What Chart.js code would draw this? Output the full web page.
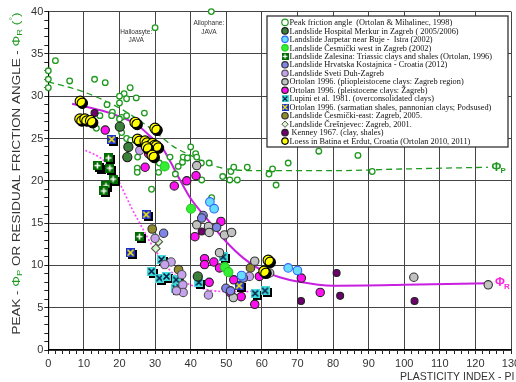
<!DOCTYPE html>
<html>
<head>
<meta charset="utf-8">
<script src="https://cdn.jsdelivr.net/npm/chart.js@4.4.1/dist/chart.umd.min.js"></script>
<style>
html, body { margin: 0; padding: 0; overflow: hidden; background: #fff; }
</style>
</head>
<body>
<canvas id="myChart" width="545" height="382"></canvas>
<script>
// values: [plasticity index, friction angle]
var peakPts = [[0,33.0],[0,32.0],[0,31.0],[2,34.2],[6,31.8],[13,32.0],[16,31.6],[23,31.0],[21.3,30.3],[20,30.0],[22,29.7],[24.7,29.8],[20,29.2],[16.5,29.0],[27,28.0],[18,28.1],[17.8,27.7],[20.6,27.5],[22,27.7],[20,27.3],[14.5,27.7],[13.5,26.2],[20.6,25.7],[22,25.0],[23.1,24.8],[25.1,22.8],[25,21.5],[25,21.0],[30,38.1],[45.8,40.0],[29,19.0],[31,21.0],[31.2,22.1],[34.2,22.8],[35.7,20.8],[36.5,21.7],[37.7,22.2],[37.9,22.8],[39.1,22.7],[40,24.0],[41.4,23.2],[41.7,22.8],[43,22.1],[43.1,20.1],[45.2,22.1],[45.9,18.0],[49,20.5],[51,20.1],[53.1,20.1],[51.3,21.1],[52.1,21.6],[55.9,21.6],[62,20.8],[63,21.4],[64,19.5],[67.4,22.1],[76,23.5],[87,23.0],[91,21.1]];
var merkurPts = [[20.1,26.4],[22.5,24.0],[22.2,22.8],[42,8.7]];
var jarpetarPts = [[45.4,17.5],[46.6,16.7],[67.4,9.7],[70,9.4],[54.3,8.8]];
var cesWestPts = [[32.7,21.7],[40.1,16.7],[49.6,9.8],[50.6,9.2]];
var zalesinaPts = [[16.9,22.7],[17.3,21.5],[13.8,21.8],[18.2,20.2],[16.2,19.4],[15.6,18.8],[25.6,13.4]];
var kostajnicaPts = [[32.4,13.8],[43.5,15.9],[43.1,15.6],[47.3,14.5],[49.9,7.3],[51.2,7.0],[54.8,8.5]];
var svetiDuhPts = [[25.7,23.6],[30,13.2],[34.5,10.4],[32.7,10.1],[37.5,8.9],[37.8,7.7],[37.9,6.8],[36,7.0],[45,6.5],[56.5,8.7]];
var plioPts = [[41.7,21.8],[41.7,14.8],[45,14.6],[45.2,13.9],[49.5,13.6],[51.5,13.9],[48.1,11.5],[58,10.5],[62.2,9.1],[52,6.2],[102.7,8.6],[123.6,7.7]];
var pleistPts = [[16,26.0],[27.2,21.6],[28.2,23.2],[35.4,19.4],[38.9,20.0],[41.5,20.6],[48.5,15.2],[41.2,13.4],[43.9,10.8],[43.9,10.1],[46.5,10.4],[48.1,9.7],[45.2,8.0],[52.1,8.3],[51.1,6.8],[54.2,6.3],[58,5.4],[59.3,8.7],[71.1,8.5],[76.4,6.8]];
var lupiniPts = [[31.8,10.7],[29,9.3],[31.2,8.5],[33.2,8.7],[35.9,8.3],[35.8,7.3],[36.9,7.4],[42.3,8.0],[49.1,11.0],[58.1,6.7],[60.9,7.0]];
var sarmatPts = [[17.8,24.9],[14.5,21.6],[27.5,16.0],[23.1,11.5],[53.6,7.6]];
var cesEastPts = [[29.2,14.3],[36.6,9.5],[36.8,8.2],[56.8,9.7]];
var cresnjevecPts = [[30.9,12.8],[30.2,12.0]];
var kenneyPts = [[13,28.0],[43.1,14.0],[71,5.8],[81,9.1],[82,6.4],[102.9,5.8]];
var loessPts = [[9,29.4],[8.9,27.3],[10.3,27.3],[11.9,27.1],[24.4,26.9],[30,26.2],[25.1,24.9],[27.2,24.7],[28.4,24.1],[29.3,24.4],[30.4,24.1],[27.6,24.0],[29.2,23.0],[61.8,10.6],[60.6,9.3]];

// trend curves
var peakTrend = [[0,31.7],[10,30.5],[20,28.6],[25,27.3],[30,25.8],[35,24.1],[40,23.0],[45,22.0],[50,21.4],[60,21.2],[80,21.2],[100,21.4],[123.5,21.6]];
var residualTrend = [[6.7,29.1],[15,28.3],[20,27.6],[25,26.6],[30,24.7],[32,23.9],[34,22.5],[37,20.1],[40,17.9],[45,15.3],[50,12.8],[55,10.8],[60,9.4],[65,8.6],[70,8.1],[80,7.6],[100,7.7],[124,7.9]];
var lowerTrend = [[10.4,23.6],[15,22.6],[18.5,21],[21,18.9],[23.5,16.7],[25.7,15],[28,13.2],[30.5,11.5],[33,10],[36,8.7],[40,7.7],[45,7.1],[50,6.9],[55,6.9],[61,7.1]];

var legendLabels = [
  'Peak friction angle  (Ortolan & Mihalinec, 1998)',
  'Landslide Hospital Merkur in Zagreb ( 2005/2006)',
  'Landslide Jarpetar near Buje -  Istra (2002)',
  'Landslide \u010cesmi\u010dki west in Zagreb (2002)',
  'Landslide Zalesina: Triassic clays and shales (Ortolan, 1996)',
  'Landslide Hrvatska Kostajnica - Croatia (2012)',
  'Landslide Sveti Duh-Zagreb',
  'Ortolan 1996. (pliopleistocene clays: Zagreb region)',
  'Ortolan 1996. (pleistocene clays: \u017dagreb)',
  'Lupini et al. 1981. (overconsolidated clays)',
  'Ortolan 1996. (sarmatian shales, pannonian clays; Podsused)',
  'Landslide \u010cesmi\u010dki-east: Zagreb, 2005.',
  'Landslide \u010cre\u0161njevec: Zagreb, 2001.',
  ' Kenney 1967. (clay, shales)',
  'Loess in Batina et Erdut, Croatia (Ortolan 2010, 2011)'
];

var GREEN = '#1f9a1f';
var MAGENTA_LINE = '#c81fe0';

function toXY(arr) {
  return arr.map(function (p) { return {x: p[0], y: p[1]}; });
}

// little square markers with a cross / x on them
function makeMark(size, fill, mark, markColor) {
  var c = document.createElement('canvas');
  c.width = size; c.height = size;
  var g = c.getContext('2d');
  g.fillStyle = fill;
  g.fillRect(0, 0, size, size);
  g.strokeStyle = markColor;
  g.lineWidth = 1.6;
  g.beginPath();
  if (mark === '+') {
    g.moveTo(size / 2, 1.5); g.lineTo(size / 2, size - 1.5);
    g.moveTo(1.5, size / 2); g.lineTo(size - 1.5, size / 2);
  } else {
    g.moveTo(1.5, 1.5); g.lineTo(size - 1.5, size - 1.5);
    g.moveTo(size - 1.5, 1.5); g.lineTo(1.5, size - 1.5);
  }
  g.stroke();
  return c;
}
var zalesinaImg = makeMark(9, '#006b00', '+', '#ffffff');
var lupiniImg = makeMark(9, '#44dddd', 'x', '#001a40');
var sarmatImg = makeMark(9, '#1a2fd0', 'x', '#ffee00');

function pts(label, data, fill, border, radius, extra) {
  var ds = {
    label: label,
    data: toXY(data),
    backgroundColor: fill,
    borderColor: border,
    borderWidth: 1.1,
    pointRadius: radius,
    pointHoverRadius: radius,
    showLine: false,
    clip: false
  };
  for (var k in extra) ds[k] = extra[k];
  return ds;
}

function trend(data, color, width, dash) {
  return {
    data: toXY(data),
    showLine: true,
    borderColor: color,
    borderWidth: width,
    borderDash: dash,
    pointRadius: 0,
    cubicInterpolationMode: 'monotone',
    fill: false,
    clip: false,
    order: 60
  };
}

var datasets = [
  pts(legendLabels[14], loessPts, '#ffff00', '#000', 5.2, {order: -1, shadow: true}),
  pts(legendLabels[1], merkurPts, '#3b7f3b', '#1a1a1a', 4.6),
  pts(legendLabels[2], jarpetarPts, '#66ddff', '#3366ff', 4.3),
  pts(legendLabels[3], cesWestPts, '#33ee33', '#22cc22', 4.5),
  pts(legendLabels[4], zalesinaPts, '#006b00', '#006b00', 4.5, {pointStyle: zalesinaImg, shadow: true}),
  pts(legendLabels[5], kostajnicaPts, '#7f86e8', '#333', 4.2),
  pts(legendLabels[6], svetiDuhPts, '#c4a2ee', '#555', 4.2),
  pts(legendLabels[7], plioPts, '#c2c2c2', '#333', 4.2),
  pts(legendLabels[8], pleistPts, '#ff10f0', '#222', 4.2),
  pts(legendLabels[9], lupiniPts, '#44dddd', '#001a40', 4.5, {pointStyle: lupiniImg, shadow: true}),
  pts(legendLabels[10], sarmatPts, '#1a2fd0', '#ffee00', 4.5, {pointStyle: sarmatImg, shadow: true}),
  pts(legendLabels[11], cesEastPts, '#8f8a2c', '#333', 4.3),
  pts(legendLabels[12], cresnjevecPts, '#d8f8c8', '#555', 4.3, {pointStyle: 'rectRot'}),
  pts(legendLabels[13], kenneyPts, '#6e006e', '#222', 3.5),
  pts(legendLabels[0], peakPts, '#ffffff', GREEN, 2.8, {borderWidth: 1.3, order: 50}),
  trend(peakTrend, GREEN, 1.3, [6, 4]),
  trend(residualTrend, MAGENTA_LINE, 2, []),
  trend(lowerTrend, '#ff40ff', 1.6, [2, 2])
];

// the order the legend shows the series in
var legendDs = [datasets[14], datasets[1], datasets[2], datasets[3], datasets[4], datasets[5], datasets[6], datasets[7], datasets[8], datasets[9], datasets[10], datasets[11], datasets[12], datasets[13], datasets[0]];

function drawMarker(ctx, ds, x, y, r) {
  ctx.save();
  if (ds.pointStyle && typeof ds.pointStyle === 'object') {
    var s = 7;
    ctx.drawImage(ds.pointStyle, x - s / 2, y - s / 2, s, s);
  } else if (ds.pointStyle === 'rectRot') {
    ctx.beginPath();
    ctx.moveTo(x, y - r); ctx.lineTo(x + r, y); ctx.lineTo(x, y + r); ctx.lineTo(x - r, y); ctx.closePath();
    ctx.fillStyle = ds.backgroundColor; ctx.fill();
    ctx.strokeStyle = ds.borderColor; ctx.lineWidth = 1; ctx.stroke();
  } else {
    ctx.beginPath();
    ctx.arc(x, y, r, 0, Math.PI * 2);
    ctx.fillStyle = ds.backgroundColor; ctx.fill();
    ctx.strokeStyle = ds.borderColor; ctx.lineWidth = 1.2; ctx.stroke();
  }
  ctx.restore();
}

function richText(ctx, parts, size, startX, baseY) {
  var x = startX;
  parts.forEach(function (p) {
    var fs = p.small ? size * 0.7 : size;
    ctx.font = fs + 'px "Liberation Sans", Arial, sans-serif';
    ctx.fillStyle = p.c;
    var dy = p.sub ? size * 0.25 : (p.sup ? -size * 0.4 : 0);
    ctx.fillText(p.t, x, baseY + dy);
    x += ctx.measureText(p.t).width;
  });
  return x - startX;
}
function richWidth(ctx, parts, size) {
  var w = 0;
  parts.forEach(function (p) {
    ctx.font = (p.small ? size * 0.7 : size) + 'px "Liberation Sans", Arial, sans-serif';
    w += ctx.measureText(p.t).width;
  });
  return w;
}

var extrasPlugin = {
  id: 'extras',
  beforeDatasetDraw: function (chart, args) {
    var ds = chart.data.datasets[args.index];
    chart.ctx.save();
    if (ds.shadow) {
      chart.ctx.shadowColor = '#000';
      chart.ctx.shadowOffsetX = 2;
      chart.ctx.shadowOffsetY = 2;
      chart.ctx.shadowBlur = 0;
    }
  },
  afterDatasetDraw: function (chart) {
    chart.ctx.restore();
  },
  afterDraw: function (chart) {
    var ctx = chart.ctx;
    var xs = chart.scales.x, ys = chart.scales.y;

    // y axis title with coloured symbols (a bit stretched along its length, like the original)
    var yParts = [
      {t: 'PEAK - ', c: '#333'},
      {t: '\u03a6', c: GREEN},
      {t: 'P', c: GREEN, small: true, sub: true},
      {t: ' OR RESIDUAL FRICTION ANGLE - ', c: '#333'},
      {t: '\u03a6', c: GREEN},
      {t: 'R', c: GREEN, small: true, sub: true},
      {t: ' (', c: GREEN},
      {t: '\u00b0', c: GREEN, small: true, sup: true},
      {t: ')', c: GREEN}
    ];
    ctx.save();
    ctx.translate(19.5, 173.5);
    ctx.rotate(-Math.PI / 2);
    ctx.textBaseline = 'alphabetic';
    ctx.textAlign = 'left';
    var w = richWidth(ctx, yParts, 11.5);
    ctx.scale(322 / w, 1);
    richText(ctx, yParts, 11.5, -w / 2, 0);
    ctx.restore();

    // x axis title, runs off the right edge like the original
    ctx.save();
    ctx.font = '10.5px "Liberation Sans", Arial, sans-serif';
    ctx.fillStyle = '#333';
    ctx.textBaseline = 'middle';
    ctx.fillText('PLASTICITY INDEX - PI (%)', 400, 377);
    ctx.restore();

    // small notes
    ctx.save();
    ctx.font = '6.5px "Liberation Sans", Arial, sans-serif';
    ctx.fillStyle = '#333';
    ctx.textAlign = 'center';
    ctx.textBaseline = 'middle';
    ctx.fillText('Halloasyte:', xs.getPixelForValue(24.7), ys.getPixelForValue(37.6));
    ctx.fillText('JAVA', xs.getPixelForValue(24.7), ys.getPixelForValue(36.6));
    ctx.fillText('Allophane:', xs.getPixelForValue(45.1), ys.getPixelForValue(38.6));
    ctx.fillText('JAVA', xs.getPixelForValue(45.1), ys.getPixelForValue(37.6));
    ctx.restore();

    // curve labels
    ctx.save();
    ctx.textBaseline = 'middle';
    ctx.textAlign = 'left';
    ctx.font = 'bold 12px "Liberation Sans", Arial, sans-serif';
    ctx.fillStyle = GREEN;
    var px = xs.getPixelForValue(124.5), py = ys.getPixelForValue(21.6);
    ctx.fillText('\u03a6', px, py);
    ctx.font = 'bold 8px "Liberation Sans", Arial, sans-serif';
    ctx.fillText('P', px + 9, py + 4);
    ctx.font = 'bold 12px "Liberation Sans", Arial, sans-serif';
    ctx.fillStyle = '#ff22dd';
    px = xs.getPixelForValue(125.5); py = ys.getPixelForValue(7.9);
    ctx.fillText('\u03a6', px, py);
    ctx.font = 'bold 8px "Liberation Sans", Arial, sans-serif';
    ctx.fillText('R', px + 9, py + 4);
    ctx.restore();

    // legend box
    ctx.save();
    ctx.fillStyle = '#fff';
    ctx.fillRect(267, 16, 241, 131);
    ctx.strokeStyle = '#333';
    ctx.lineWidth = 1.3;
    ctx.strokeRect(267, 16, 241, 131);
    ctx.font = '8.3px "Liberation Serif", "Times New Roman", serif';
    ctx.textBaseline = 'middle';
    legendDs.forEach(function (ds, i) {
      var y = 22.4 + i * 8.48;
      drawMarker(ctx, ds, 285, y, 3.2);
      ctx.fillStyle = '#111';
      ctx.fillText(ds.label, 289.5, y + 0.5);
    });
    ctx.restore();
  }
};

var ctx = document.getElementById('myChart').getContext('2d');
var chart = new Chart(ctx, {
  type: 'scatter',
  data: { datasets: datasets },
  plugins: [extrasPlugin],
  options: {
    responsive: false,
    animation: false,
    devicePixelRatio: 1,
    layout: { padding: { top: 11.6, right: 34, left: 0, bottom: 0 } },
    plugins: { legend: { display: false }, tooltip: { enabled: false } },
    scales: {
      x: {
        type: 'linear', min: 0, max: 130,
        afterFit: function (s) { s.height = 32; },
        ticks: {
          stepSize: 2, autoSkip: false, maxRotation: 0, padding: 3,
          color: '#333', font: { size: 11, family: '"Liberation Sans", Arial, sans-serif' },
          callback: function (v) { return v % 10 === 0 ? v : ''; }
        },
        grid: {
          color: function (c) { return c.tick && c.tick.value % 10 === 0 ? '#444' : 'rgba(0,0,0,0)'; },
          tickColor: '#222', tickLength: 4, lineWidth: 1
        },
        border: { color: '#000', width: 1.2 }
      },
      y: {
        type: 'linear', min: 0, max: 40,
        afterFit: function (s) { s.width = 48.3; },
        ticks: {
          stepSize: 1, autoSkip: false, padding: 1,
          color: '#333', font: { size: 11, family: '"Liberation Sans", Arial, sans-serif' },
          callback: function (v) { return v % 5 === 0 ? v : ''; }
        },
        grid: {
          color: function (c) { return c.tick && c.tick.value % 5 === 0 ? '#444' : 'rgba(0,0,0,0)'; },
          tickColor: '#222', tickLength: 4, lineWidth: 1
        },
        border: { color: '#000', width: 1.2 }
      }
    }
  }
});
</script>
</body>
</html>
